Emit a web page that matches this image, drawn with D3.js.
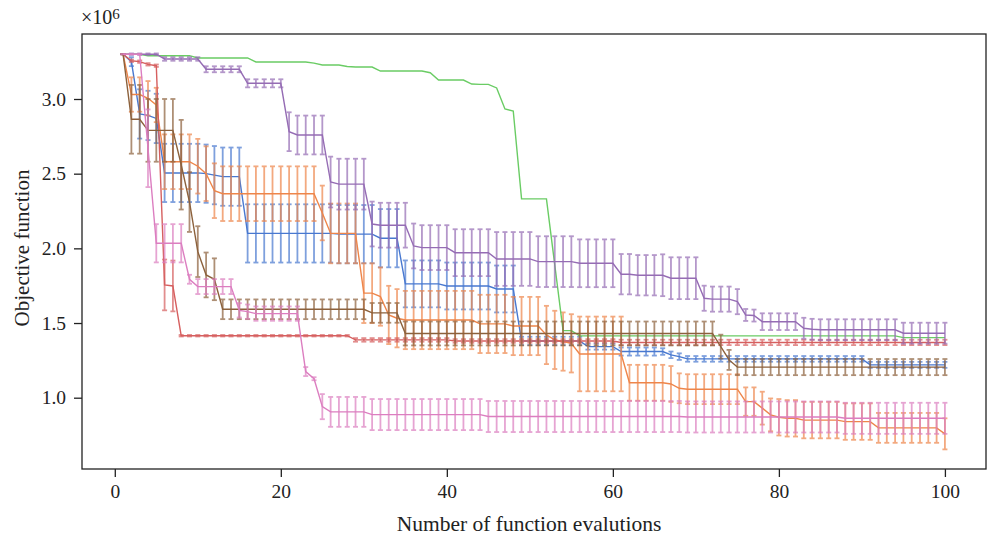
<!DOCTYPE html>
<html>
<head>
<meta charset="utf-8">
<script src="https://cdn.jsdelivr.net/npm/d3@7"></script>
<style>
  body { margin: 0; background: #fff; }
  svg text { font-family: "Liberation Serif", "DejaVu Serif", serif; fill: #222; }
</style>
</head>
<body>
<div id="chart"></div>
<script>
const width = 991
const height = 542
const margin = { top: 34, right: 5, bottom: 73, left: 82 }

// x values: function evaluation number 1..100
const evals = d3.range(1, 101)
const xTicks = [0, 20, 40, 60, 80, 100]
const yTicks = [1.0, 1.5, 2.0, 2.5, 3.0]

// means and standard deviations, in units of 10^6
const blueMean = [
  3.30, 3.25, 2.90, 2.89, 2.87, 2.505, 2.505, 2.505, 2.505, 2.505, 2.50, 2.49, 2.48, 2.48, 2.48, 2.10, 2.10, 2.10, 2.10, 2.10,
  2.10, 2.10, 2.10, 2.10, 2.10, 2.10, 2.095, 2.095, 2.095, 2.095, 2.095, 2.068, 2.068, 2.068, 1.762, 1.762, 1.762, 1.762, 1.762, 1.748,
  1.748, 1.748, 1.748, 1.748, 1.748, 1.728, 1.728, 1.728, 1.38, 1.38, 1.38, 1.38, 1.38, 1.38, 1.38, 1.38, 1.342, 1.342, 1.342, 1.342,
  1.309, 1.309, 1.309, 1.309, 1.309, 1.309, 1.287, 1.275, 1.26, 1.26, 1.26, 1.26, 1.26, 1.26, 1.26, 1.26, 1.26, 1.26, 1.26, 1.26,
  1.26, 1.26, 1.26, 1.26, 1.26, 1.26, 1.26, 1.26, 1.26, 1.26, 1.22, 1.22, 1.22, 1.22, 1.22, 1.22, 1.22, 1.22, 1.22, 1.22
]
const blueErr = [
  0, 0.03, 0.165, 0.165, 0.165, 0.195, 0.195, 0.195, 0.195, 0.195, 0.195, 0.195, 0.195, 0.195, 0.195, 0.195, 0.195, 0.195, 0.195, 0.195,
  0.195, 0.195, 0.195, 0.195, 0.195, 0.195, 0.195, 0.195, 0.195, 0.195, 0.195, 0.195, 0.195, 0.195, 0.157, 0.157, 0.157, 0.157, 0.157, 0.157,
  0.157, 0.157, 0.157, 0.157, 0.157, 0.157, 0.157, 0.157, 0.028, 0.028, 0.028, 0.028, 0.028, 0.028, 0.028, 0.028, 0.02, 0.02, 0.02, 0.02,
  0.027, 0.027, 0.027, 0.027, 0.027, 0.022, 0.022, 0.022, 0.019, 0.019, 0.019, 0.019, 0.019, 0.019, 0.019, 0.019, 0.019, 0.019, 0.019, 0.019,
  0.019, 0.019, 0.019, 0.019, 0.019, 0.019, 0.019, 0.019, 0.019, 0.019, 0.02, 0.02, 0.02, 0.02, 0.02, 0.02, 0.02, 0.02, 0.02, 0.02
]
const orangeMean = [
  3.30, 3.03, 3.03, 3.005, 2.96, 2.58, 2.58, 2.58, 2.58, 2.55, 2.50, 2.386, 2.366, 2.366, 2.366, 2.366, 2.366, 2.366, 2.366, 2.366,
  2.366, 2.366, 2.366, 2.366, 2.237, 2.10, 2.10, 2.10, 2.10, 1.70, 1.70, 1.677, 1.554, 1.532, 1.52, 1.52, 1.52, 1.52, 1.52, 1.52,
  1.52, 1.52, 1.52, 1.494, 1.494, 1.494, 1.494, 1.48, 1.48, 1.48, 1.48, 1.42, 1.387, 1.376, 1.364, 1.293, 1.293, 1.293, 1.293, 1.293,
  1.293, 1.10, 1.10, 1.10, 1.10, 1.10, 1.092, 1.063, 1.057, 1.057, 1.057, 1.057, 1.057, 1.057, 1.057, 0.974, 0.974, 0.93, 0.885, 0.869,
  0.862, 0.862, 0.85, 0.85, 0.85, 0.85, 0.85, 0.84, 0.84, 0.84, 0.84, 0.798, 0.798, 0.798, 0.798, 0.798, 0.798, 0.798, 0.798, 0.758
]
const orangeErr = [
  0, 0.115, 0.115, 0.115, 0.115, 0.183, 0.183, 0.183, 0.183, 0.183, 0.183, 0.183, 0.183, 0.183, 0.183, 0.183, 0.183, 0.183, 0.183, 0.183,
  0.183, 0.183, 0.183, 0.183, 0.183, 0.2, 0.2, 0.2, 0.2, 0.2, 0.2, 0.195, 0.195, 0.195, 0.195, 0.195, 0.195, 0.195, 0.195, 0.195,
  0.195, 0.195, 0.195, 0.195, 0.195, 0.195, 0.195, 0.195, 0.195, 0.195, 0.195, 0.195, 0.195, 0.195, 0.195, 0.25, 0.25, 0.25, 0.25, 0.25,
  0.25, 0.12, 0.12, 0.12, 0.12, 0.12, 0.12, 0.1, 0.1, 0.1, 0.1, 0.1, 0.1, 0.1, 0.1, 0.095, 0.095, 0.11, 0.11, 0.122,
  0.122, 0.122, 0.122, 0.122, 0.122, 0.122, 0.122, 0.122, 0.122, 0.122, 0.122, 0.1, 0.1, 0.1, 0.1, 0.1, 0.1, 0.1, 0.1, 0.104
]
const greenMean = [
  3.30, 3.30, 3.30, 3.29, 3.29, 3.29, 3.29, 3.29, 3.29, 3.275, 3.275, 3.275, 3.275, 3.275, 3.275, 3.275, 3.248, 3.248, 3.248, 3.248,
  3.248, 3.248, 3.248, 3.24, 3.228, 3.228, 3.228, 3.218, 3.214, 3.214, 3.214, 3.187, 3.187, 3.187, 3.187, 3.187, 3.187, 3.176, 3.127, 3.127,
  3.127, 3.127, 3.10, 3.098, 3.098, 3.074, 2.933, 2.92, 2.331, 2.331, 2.331, 2.331, 1.89, 1.449, 1.449, 1.414, 1.414, 1.414, 1.414, 1.414,
  1.414, 1.414, 1.414, 1.414, 1.414, 1.414, 1.414, 1.414, 1.414, 1.414, 1.414, 1.414, 1.414, 1.414, 1.414, 1.414, 1.414, 1.414, 1.414, 1.414,
  1.414, 1.414, 1.414, 1.414, 1.414, 1.414, 1.414, 1.414, 1.414, 1.414, 1.414, 1.414, 1.414, 1.414, 1.402, 1.402, 1.402, 1.402, 1.402, 1.402
]
const redMean = [
  3.30, 3.256, 3.25, 3.232, 3.223, 1.755, 1.748, 1.415, 1.415, 1.415, 1.415, 1.415, 1.415, 1.415, 1.415, 1.415, 1.415, 1.415, 1.415, 1.415,
  1.415, 1.415, 1.415, 1.415, 1.415, 1.415, 1.415, 1.415, 1.387, 1.387, 1.387, 1.387, 1.387, 1.387, 1.387, 1.387, 1.387, 1.387, 1.387, 1.387,
  1.38, 1.38, 1.38, 1.38, 1.38, 1.38, 1.38, 1.38, 1.38, 1.38, 1.38, 1.38, 1.38, 1.38, 1.38, 1.38, 1.38, 1.38, 1.38, 1.38,
  1.37, 1.37, 1.37, 1.37, 1.37, 1.37, 1.37, 1.37, 1.37, 1.37, 1.37, 1.37, 1.37, 1.37, 1.37, 1.37, 1.37, 1.37, 1.37, 1.37,
  1.37, 1.37, 1.37, 1.37, 1.37, 1.37, 1.37, 1.37, 1.37, 1.37, 1.37, 1.37, 1.37, 1.37, 1.37, 1.37, 1.37, 1.37, 1.37, 1.37
]
const redErr = [
  0, 0.008, 0.008, 0.008, 0.008, 0.17, 0.17, 0.005, 0.005, 0.005, 0.005, 0.005, 0.005, 0.005, 0.005, 0.005, 0.005, 0.005, 0.005, 0.005,
  0.005, 0.005, 0.005, 0.005, 0.005, 0.005, 0.005, 0.005, 0.012, 0.012, 0.012, 0.012, 0.012, 0.012, 0.012, 0.012, 0.012, 0.012, 0.012, 0.012,
  0.012, 0.012, 0.012, 0.012, 0.012, 0.012, 0.012, 0.012, 0.012, 0.012, 0.012, 0.012, 0.012, 0.012, 0.012, 0.012, 0.012, 0.012, 0.012, 0.012,
  0.018, 0.018, 0.018, 0.018, 0.018, 0.018, 0.018, 0.018, 0.018, 0.018, 0.018, 0.018, 0.018, 0.018, 0.018, 0.018, 0.018, 0.018, 0.018, 0.018,
  0.018, 0.018, 0.018, 0.018, 0.018, 0.018, 0.018, 0.018, 0.018, 0.018, 0.018, 0.018, 0.018, 0.018, 0.018, 0.018, 0.018, 0.018, 0.018, 0.018
]
const purpleMean = [
  3.30, 3.30, 3.30, 3.30, 3.30, 3.268, 3.268, 3.268, 3.268, 3.268, 3.199, 3.199, 3.199, 3.199, 3.199, 3.105, 3.105, 3.105, 3.105, 3.105,
  2.781, 2.759, 2.759, 2.759, 2.759, 2.444, 2.43, 2.43, 2.43, 2.43, 2.163, 2.155, 2.155, 2.155, 2.155, 2.016, 2.005, 2.005, 2.005, 2.005,
  1.971, 1.971, 1.971, 1.971, 1.971, 1.929, 1.929, 1.929, 1.929, 1.929, 1.911, 1.911, 1.911, 1.911, 1.911, 1.90, 1.90, 1.90, 1.90, 1.90,
  1.827, 1.827, 1.82, 1.82, 1.82, 1.82, 1.80, 1.80, 1.80, 1.80, 1.666, 1.66, 1.66, 1.66, 1.643, 1.554, 1.55, 1.509, 1.509, 1.509,
  1.509, 1.509, 1.465, 1.458, 1.455, 1.455, 1.455, 1.455, 1.455, 1.455, 1.455, 1.455, 1.455, 1.455, 1.432, 1.432, 1.432, 1.432, 1.432, 1.432
]
const purpleErr = [
  0, 0.005, 0.005, 0.005, 0.005, 0.012, 0.012, 0.012, 0.012, 0.012, 0.02, 0.02, 0.02, 0.02, 0.02, 0.027, 0.027, 0.027, 0.027, 0.027,
  0.13, 0.13, 0.13, 0.13, 0.13, 0.17, 0.17, 0.17, 0.17, 0.17, 0.15, 0.15, 0.15, 0.15, 0.15, 0.15, 0.15, 0.15, 0.15, 0.15,
  0.157, 0.157, 0.157, 0.157, 0.157, 0.18, 0.18, 0.18, 0.18, 0.18, 0.17, 0.17, 0.17, 0.17, 0.17, 0.16, 0.16, 0.16, 0.16, 0.16,
  0.135, 0.135, 0.135, 0.135, 0.135, 0.14, 0.14, 0.14, 0.14, 0.14, 0.084, 0.084, 0.084, 0.084, 0.084, 0.04, 0.04, 0.056, 0.056, 0.056,
  0.056, 0.056, 0.07, 0.07, 0.07, 0.07, 0.07, 0.07, 0.07, 0.07, 0.07, 0.07, 0.07, 0.07, 0.07, 0.07, 0.07, 0.07, 0.07, 0.07
]
const brownMean = [
  3.30, 2.864, 2.864, 2.79, 2.79, 2.79, 2.79, 2.56, 2.31, 1.978, 1.822, 1.793, 1.592, 1.592, 1.592, 1.592, 1.592, 1.592, 1.592, 1.592,
  1.592, 1.592, 1.592, 1.592, 1.592, 1.592, 1.592, 1.592, 1.592, 1.592, 1.568, 1.568, 1.568, 1.568, 1.43, 1.43, 1.43, 1.43, 1.43, 1.43,
  1.43, 1.43, 1.43, 1.43, 1.43, 1.43, 1.43, 1.43, 1.43, 1.43, 1.43, 1.43, 1.43, 1.43, 1.43, 1.43, 1.43, 1.43, 1.43, 1.43,
  1.43, 1.43, 1.43, 1.43, 1.43, 1.43, 1.43, 1.43, 1.43, 1.43, 1.43, 1.43, 1.342, 1.253, 1.205, 1.205, 1.205, 1.205, 1.205, 1.205,
  1.205, 1.205, 1.205, 1.205, 1.205, 1.205, 1.205, 1.205, 1.205, 1.205, 1.205, 1.205, 1.205, 1.205, 1.205, 1.205, 1.205, 1.205, 1.205, 1.205
]
const brownErr = [
  0, 0.23, 0.23, 0.21, 0.21, 0.21, 0.21, 0.3, 0.2, 0.17, 0.15, 0.14, 0.066, 0.066, 0.066, 0.066, 0.066, 0.066, 0.066, 0.066,
  0.066, 0.066, 0.066, 0.066, 0.066, 0.066, 0.066, 0.066, 0.066, 0.066, 0.066, 0.066, 0.066, 0.066, 0.08, 0.08, 0.08, 0.08, 0.08, 0.08,
  0.08, 0.08, 0.08, 0.08, 0.08, 0.08, 0.08, 0.08, 0.08, 0.08, 0.08, 0.08, 0.08, 0.08, 0.08, 0.08, 0.08, 0.08, 0.08, 0.08,
  0.08, 0.08, 0.08, 0.08, 0.08, 0.08, 0.08, 0.08, 0.08, 0.08, 0.08, 0.08, 0.08, 0.067, 0.054, 0.054, 0.054, 0.054, 0.054, 0.054,
  0.054, 0.054, 0.054, 0.054, 0.054, 0.054, 0.054, 0.054, 0.054, 0.054, 0.054, 0.054, 0.054, 0.054, 0.054, 0.054, 0.054, 0.054, 0.054, 0.054
]
const pinkMean = [
  3.30, 3.30, 3.30, 2.67, 2.034, 2.034, 2.034, 2.034, 1.793, 1.744, 1.744, 1.744, 1.744, 1.744, 1.585, 1.576, 1.563, 1.563, 1.563, 1.563,
  1.563, 1.563, 1.175, 1.127, 0.94, 0.905, 0.905, 0.905, 0.905, 0.905, 0.887, 0.887, 0.887, 0.887, 0.887, 0.887, 0.887, 0.887, 0.887, 0.887,
  0.887, 0.887, 0.887, 0.887, 0.874, 0.874, 0.874, 0.874, 0.874, 0.874, 0.874, 0.874, 0.874, 0.874, 0.874, 0.874, 0.874, 0.874, 0.874, 0.874,
  0.874, 0.874, 0.874, 0.874, 0.874, 0.874, 0.874, 0.874, 0.871, 0.871, 0.871, 0.871, 0.871, 0.871, 0.871, 0.871, 0.871, 0.871, 0.871, 0.871,
  0.871, 0.871, 0.871, 0.871, 0.871, 0.871, 0.871, 0.862, 0.862, 0.862, 0.862, 0.862, 0.862, 0.862, 0.862, 0.862, 0.862, 0.862, 0.862, 0.862
]
const pinkErr = [
  0, 0, 0, 0.26, 0.128, 0.128, 0.128, 0.128, 0.03, 0.05, 0.05, 0.05, 0.05, 0.05, 0.048, 0.048, 0.048, 0.048, 0.048, 0.048,
  0.048, 0.048, 0.03, 0.01, 0.084, 0.1, 0.1, 0.1, 0.1, 0.1, 0.104, 0.104, 0.104, 0.104, 0.104, 0.104, 0.104, 0.104, 0.104, 0.104,
  0.104, 0.104, 0.104, 0.104, 0.104, 0.104, 0.104, 0.104, 0.104, 0.104, 0.104, 0.104, 0.104, 0.104, 0.104, 0.104, 0.104, 0.104, 0.104, 0.104,
  0.104, 0.104, 0.104, 0.104, 0.104, 0.104, 0.104, 0.104, 0.104, 0.104, 0.104, 0.104, 0.104, 0.104, 0.104, 0.104, 0.104, 0.104, 0.104, 0.104,
  0.104, 0.104, 0.104, 0.104, 0.104, 0.104, 0.104, 0.104, 0.104, 0.104, 0.104, 0.104, 0.104, 0.104, 0.104, 0.104, 0.104, 0.104, 0.104, 0.104
]

const series = [
  { color: "#4878d0", mean: blueMean, err: blueErr },
  { color: "#ee854a", mean: orangeMean, err: orangeErr },
  { color: "#6acc64", mean: greenMean, err: null },
  { color: "#d65f5f", mean: redMean, err: redErr },
  { color: "#956cb4", mean: purpleMean, err: purpleErr },
  { color: "#8c613c", mean: brownMean, err: brownErr },
  { color: "#dc7ec0", mean: pinkMean, err: pinkErr }
]

const svg = d3.select("div#chart").append("svg").attr("width", width).attr("height", height)

const plotW = width - margin.left - margin.right
const plotH = height - margin.top - margin.bottom

const x = d3.scaleLinear().domain([-3.95, 104.95]).range([margin.left, margin.left + plotW])
const y = d3.scaleLinear().domain([0.5226, 3.4352]).range([margin.top + plotH, margin.top])

const plot = svg.append("g").attr("class", "plot")

const line = d3.line().x((d, i) => x(evals[i])).y(d => y(d))
const cap = 2.5

series.forEach(s => {
  const g = plot.append("g")
  if (s.err) {
    const bars = g.append("g").attr("stroke", s.color).attr("stroke-width", 1.8).attr("opacity", 0.7)
    evals.forEach((e, i) => {
      const hi = y(s.mean[i] + s.err[i])
      const lo = y(s.mean[i] - s.err[i])
      bars.append("line").attr("x1", x(e)).attr("x2", x(e)).attr("y1", hi).attr("y2", lo)
      bars.append("line").attr("x1", x(e) - cap).attr("x2", x(e) + cap).attr("y1", hi).attr("y2", hi)
      bars.append("line").attr("x1", x(e) - cap).attr("x2", x(e) + cap).attr("y1", lo).attr("y2", lo)
    })
  }
  g.append("path").datum(s.mean)
    .attr("d", line)
    .attr("fill", "none")
    .attr("stroke", s.color)
    .attr("stroke-width", 1.4)
})

// frame
svg.append("rect")
  .attr("x", margin.left).attr("y", margin.top)
  .attr("width", plotW).attr("height", plotH)
  .attr("fill", "none").attr("stroke", "#222").attr("stroke-width", 1.3)

const xAxis = d3.axisBottom(x).tickValues(xTicks).tickSize(8).tickPadding(7).tickFormat(d3.format("d"))
const yAxis = d3.axisLeft(y).tickValues(yTicks).tickSize(8).tickPadding(8).tickFormat(d3.format(".1f"))

const xAxisGroup = svg.append("g").attr("transform", `translate(0, ${margin.top + plotH})`).call(xAxis)
const yAxisGroup = svg.append("g").attr("transform", `translate(${margin.left}, 0)`).call(yAxis)

;[xAxisGroup, yAxisGroup].forEach(a => {
  a.select(".domain").remove()
  a.selectAll(".tick line").attr("stroke", "#222").attr("stroke-width", 1.3)
  a.selectAll(".tick text").attr("font-size", 19.5).attr("font-family", "Liberation Serif").attr("fill", "#222")
})

// offset text
const off = svg.append("text").attr("x", margin.left - 1).attr("y", 24).attr("font-size", 20)
off.append("tspan").text("×10")
off.append("tspan").attr("font-size", 15).attr("dy", -5).text("6")

svg.append("text")
  .attr("x", 529).attr("y", 531)
  .attr("text-anchor", "middle").attr("font-size", 21.5)
  .text("Number of function evalutions")

svg.append("text")
  .attr("transform", "translate(29, 248) rotate(-90)")
  .attr("text-anchor", "middle").attr("font-size", 21)
  .text("Objective function")
</script>
</body>
</html>
